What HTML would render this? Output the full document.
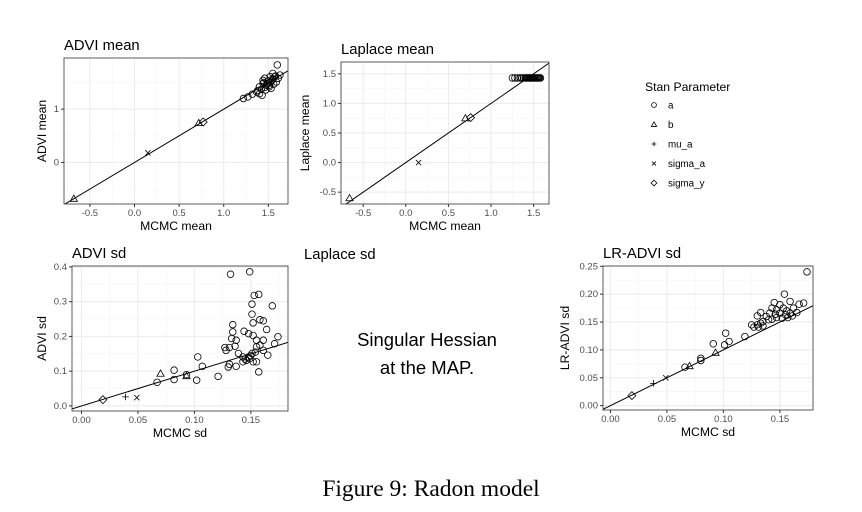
<!DOCTYPE html>
<html><head><meta charset="utf-8"><style>
body{margin:0;background:#fff;width:862px;height:512px;overflow:hidden;font-family:"Liberation Sans",sans-serif}
svg{position:absolute;left:0;top:0}
.cap{position:absolute;left:0;width:862px;top:476px;text-align:center;font-family:"Liberation Serif",serif;font-size:23.5px}
</style></head><body>
<svg id="s" width="862" height="512"></svg>
<div class="cap">Figure 9: Radon model</div>
<script>
// ADVI mean panel
const p1A=[[1.60,1.83],[1.27,1.23],[1.32,1.28],[1.37,1.32],[1.40,1.29],[1.42,1.37],[1.46,1.41],[1.44,1.48],[1.49,1.48],[1.51,1.45],[1.54,1.54],[1.57,1.61],[1.61,1.58],[1.52,1.61],[1.46,1.58],[1.50,1.53],[1.59,1.51],[1.53,1.39],[1.43,1.26],[1.40,1.42],[1.55,1.67],[1.63,1.64],[1.47,1.36],[1.51,1.42],[1.56,1.47],[1.44,1.54],[1.22,1.2],[1.48,1.45],[1.45,1.5],[1.52,1.5],[1.38,1.35],[1.55,1.57],[1.58,1.62]];
const p1B=[[-0.68,-0.68],[0.72,0.74]];
const p1Mu=[[1.45,1.46]];
const p1Sa=[[0.15,0.18]];
const p1Sy=[[0.77,0.76]];
// Laplace mean panel
const p2AX=[1.25,1.28,1.31,1.34,1.36,1.38,1.40,1.41,1.42,1.43,1.44,1.45,1.46,1.47,1.48,1.49,1.50,1.51,1.52,1.53,1.54,1.55,1.56,1.57,1.58];
const p2AY=1.43;
const p2B=[[-0.66,-0.6],[0.70,0.75]];
const p2Mu=[[1.45,1.43]];
const p2Sa=[[0.15,0.0]];
const p2Sy=[[0.76,0.76]];
// ADVI sd panel
const p3A=[[0.132,0.379],[0.149,0.386],[0.157,0.321],[0.153,0.318],[0.169,0.288],[0.151,0.293],[0.151,0.264],[0.152,0.239],[0.158,0.248],[0.161,0.245],[0.164,0.22],[0.134,0.234],[0.134,0.213],[0.144,0.215],[0.133,0.194],[0.137,0.189],[0.148,0.208],[0.152,0.203],[0.155,0.189],[0.161,0.189],[0.174,0.199],[0.171,0.179],[0.127,0.168],[0.131,0.168],[0.136,0.172],[0.128,0.16],[0.139,0.151],[0.143,0.141],[0.148,0.141],[0.151,0.151],[0.155,0.17],[0.158,0.175],[0.161,0.16],[0.165,0.146],[0.146,0.131],[0.149,0.136],[0.152,0.127],[0.143,0.127],[0.131,0.12],[0.137,0.114],[0.130,0.112],[0.155,0.127],[0.157,0.098],[0.103,0.141],[0.107,0.114],[0.102,0.074],[0.121,0.085],[0.082,0.103],[0.082,0.076],[0.067,0.068],[0.093,0.09],[0.145,0.135],[0.150,0.145],[0.154,0.155]];
const p3B=[[0.070,0.093],[0.093,0.086]];
const p3Mu=[[0.039,0.026]];
const p3Sa=[[0.049,0.024]];
const p3Sy=[[0.019,0.018]];
// LR-ADVI sd panel
const p4A=[[0.174,0.240],[0.154,0.2],[0.159,0.187],[0.145,0.185],[0.15,0.181],[0.167,0.182],[0.171,0.184],[0.133,0.167],[0.13,0.161],[0.143,0.175],[0.147,0.172],[0.153,0.175],[0.156,0.17],[0.162,0.175],[0.141,0.166],[0.146,0.164],[0.15,0.166],[0.155,0.163],[0.159,0.166],[0.165,0.167],[0.138,0.16],[0.143,0.155],[0.147,0.158],[0.152,0.157],[0.157,0.158],[0.161,0.161],[0.135,0.151],[0.14,0.154],[0.133,0.148],[0.13,0.145],[0.125,0.145],[0.127,0.141],[0.131,0.141],[0.135,0.143],[0.119,0.124],[0.105,0.115],[0.102,0.13],[0.101,0.109],[0.091,0.111],[0.080,0.085],[0.08,0.081],[0.066,0.069]];
const p4B=[[0.07,0.071],[0.093,0.095]];
const p4Mu=[[0.038,0.04]];
const p4Sa=[[0.049,0.05]];
const p4Sy=[[0.019,0.018]];
const ticks1X=[-0.5,0,0.5,1,1.5], ticks1XL=["-0.5","0.0","0.5","1.0","1.5"], ticks1Y=[0,1], ticks1YL=["0","1"];
const ticks2Y=[-0.5,0,0.5,1,1.5], ticks2YL=["-0.5","0.0","0.5","1.0","1.5"];
const ticksSdX=[0,0.05,0.10,0.15], ticksSdXL=["0.00","0.05","0.10","0.15"];
const ticks3Y=[0,0.1,0.2,0.3,0.4], ticks3YL=["0.0","0.1","0.2","0.3","0.4"];
const ticks4Y=[0,0.05,0.1,0.15,0.2,0.25], ticks4YL=["0.00","0.05","0.10","0.15","0.20","0.25"];

const S=document.getElementById('s');const NS='http://www.w3.org/2000/svg';
function el(t,a,p){const e=document.createElementNS(NS,t);for(const k in a)e.setAttribute(k,a[k]);(p||S).appendChild(e);return e;}
function txt(x,y,s,sz,fill,anchor,p,rot){const e=el('text',{x:x,y:y,'font-size':sz,fill:fill,'text-anchor':anchor||'start','font-family':'Liberation Sans, sans-serif'},p);if(rot)e.setAttribute('transform',`rotate(-90 ${x} ${y})`);e.textContent=s;return e;}
function marker(g,type,x,y,size){
  const r=size||3.3;let e;
  if(type==='a')e=el('circle',{cx:x,cy:y,r:r,fill:'none',stroke:'#000','stroke-width':0.8},g);
  else if(type==='b')e=el('path',{d:`M${x} ${y-r*1.1}L${x+r*1.1} ${y+r*0.8}L${x-r*1.1} ${y+r*0.8}Z`,fill:'none',stroke:'#000','stroke-width':0.8},g);
  else if(type==='mu')e=el('path',{d:`M${x-r} ${y}H${x+r}M${x} ${y-r}V${y+r}`,stroke:'#000','stroke-width':0.8},g);
  else if(type==='sa')e=el('path',{d:`M${x-r*0.8} ${y-r*0.8}L${x+r*0.8} ${y+r*0.8}M${x-r*0.8} ${y+r*0.8}L${x+r*0.8} ${y-r*0.8}`,stroke:'#000','stroke-width':0.8},g);
  else e=el('path',{d:`M${x} ${y-r*1.2}L${x+r*1.2} ${y}L${x} ${y+r*1.2}L${x-r*1.2} ${y}Z`,fill:'none',stroke:'#000','stroke-width':0.8},g);
  
  
}
function panel(c){
  const g=el('g',{});
  const X=v=>c.L+(v-c.x0)/(c.x1-c.x0)*(c.R-c.L);
  const Y=v=>c.B-(v-c.y0)/(c.y1-c.y0)*(c.B-c.T);
  el('rect',{x:c.L,y:c.T,width:c.R-c.L,height:c.B-c.T,fill:'#fff'},g);
  for(let i=0;i<c.xt.length-1;i++){const m=(c.xt[i]+c.xt[i+1])/2;el('line',{x1:X(m),x2:X(m),y1:c.T,y2:c.B,stroke:'#f3f3f3','stroke-width':0.5},g);}
  {const d=c.xt[1]-c.xt[0];[c.xt[0]-d/2,c.xt[c.xt.length-1]+d/2].forEach(m=>{if(m>c.x0&&m<c.x1)el('line',{x1:X(m),x2:X(m),y1:c.T,y2:c.B,stroke:'#f3f3f3','stroke-width':0.5},g);});}
  for(let i=0;i<c.yt.length-1;i++){const m=(c.yt[i]+c.yt[i+1])/2;el('line',{y1:Y(m),y2:Y(m),x1:c.L,x2:c.R,stroke:'#f3f3f3','stroke-width':0.5},g);}
  {const d=c.yt[1]-c.yt[0];[c.yt[0]-d/2,c.yt[c.yt.length-1]+d/2].forEach(m=>{if(m>c.y0&&m<c.y1)el('line',{y1:Y(m),y2:Y(m),x1:c.L,x2:c.R,stroke:'#f3f3f3','stroke-width':0.5},g);});}
  c.xt.forEach((v,i)=>{el('line',{x1:X(v),x2:X(v),y1:c.T,y2:c.B,stroke:'#ebebeb','stroke-width':1},g);el('line',{x1:X(v),x2:X(v),y1:c.B,y2:c.B+3,stroke:'#333'},g);txt(X(v),c.B+12,c.xl[i],9.5,'#4d4d4d','middle',g);});
  c.yt.forEach((v,i)=>{el('line',{y1:Y(v),y2:Y(v),x1:c.L,x2:c.R,stroke:'#ebebeb','stroke-width':1},g);el('line',{y1:Y(v),y2:Y(v),x1:c.L-3,x2:c.L,stroke:'#333'},g);txt(c.L-5,Y(v)+3,c.yl[i],9.5,'#4d4d4d','end',g);});
  const svgClip='clip'+c.name;const cp=el('clipPath',{id:svgClip},g);el('rect',{x:c.L,y:c.T,width:c.R-c.L,height:c.B-c.T},cp);
  const ln=el('line',{x1:X(c.x0),y1:Y(c.x0),x2:X(c.x1),y2:Y(c.x1),stroke:'#000','stroke-width':1,'clip-path':`url(#${svgClip})`},g);
  
  c.sets.forEach(([t,arr])=>arr.forEach(p=>marker(g,t,X(p[0]),Y(p[1]))));
  el('rect',{x:c.L,y:c.T,width:c.R-c.L,height:c.B-c.T,fill:'none',stroke:'#333','stroke-width':0.8},g);
  txt(c.L,c.T-8,c.title,14.8,'#000','start',g);
  txt((c.L+c.R)/2,c.B+26,c.xlab,12.2,'#000','middle',g);
  txt(c.ylx,(c.T+c.B)/2,c.ylab,12.2,'#000','middle',g,true);
}
panel({name:'advi-mean-panel',L:64,R:288,T:58,B:204,x0:-0.79,x1:1.72,y0:-0.78,y1:1.96,xt:ticks1X,xl:ticks1XL,yt:ticks1Y,yl:ticks1YL,title:'ADVI mean',xlab:'MCMC mean',ylab:'ADVI mean',ylx:46,
  sets:[['a',p1A],['b',p1B],['mu',p1Mu],['sa',p1Sa],['sy',p1Sy]]});
panel({name:'laplace-mean-panel',L:341,R:549,T:62,B:204,x0:-0.76,x1:1.68,y0:-0.7,y1:1.7,xt:ticks1X,xl:ticks1XL,yt:ticks2Y,yl:ticks2YL,title:'Laplace mean',xlab:'MCMC mean',ylab:'Laplace mean',ylx:309,
  sets:[['a',p2AX.map(x=>[x,p2AY])],['b',p2B],['mu',p2Mu],['sa',p2Sa],['sy',p2Sy]]});
panel({name:'advi-sd-panel',L:72,R:288,T:266,B:411,x0:-0.0084,x1:0.1829,y0:-0.0146,y1:0.4027,xt:ticksSdX,xl:ticksSdXL,yt:ticks3Y,yl:ticks3YL,title:'ADVI sd',xlab:'MCMC sd',ylab:'ADVI sd',ylx:46,
  sets:[['a',p3A],['b',p3B],['mu',p3Mu],['sa',p3Sa],['sy',p3Sy]]});
panel({name:'lr-advi-sd-panel',L:603,R:813,T:266,B:410,x0:-0.0066,x1:0.1793,y0:-0.0078,y1:0.2505,xt:ticksSdX,xl:ticksSdXL,yt:ticks4Y,yl:ticks4YL,title:'LR-ADVI sd',xlab:'MCMC sd',ylab:'LR-ADVI sd',ylx:569,
  sets:[['a',p4A],['b',p4B],['mu',p4Mu],['sa',p4Sa],['sy',p4Sy]]});
const lg=el('g',{});
txt(645,91,'Stan Parameter',12.2,'#000','start',lg);
const legT=['a','b','mu','sa','sy'],legL=['a','b','mu_a','sigma_a','sigma_y'];
legT.forEach((t,i)=>{const y=105+i*19.5;marker(lg,t,654,y,2.4);const e=txt(668,y+3.5,legL[i],9.8,'#000','start',lg);});
txt(304,259,'Laplace sd',14.8,'#000','start');
txt(427,346,'Singular Hessian',18.5,'#000','middle');
txt(427,374,'at the MAP.',18.5,'#000','middle');
</script>
</body></html>
